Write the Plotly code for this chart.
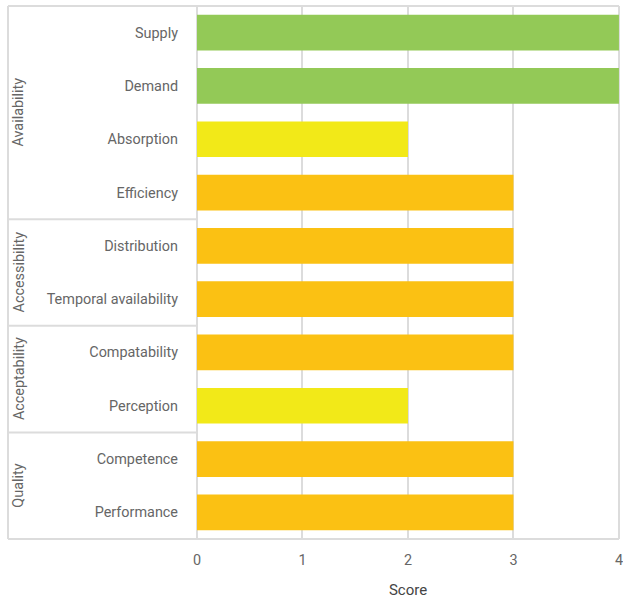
import plotly.graph_objects as go

# Indicator scores grouped by dimension
groups = ["Availability", "Accessibility", "Acceptability", "Quality"]
group_sizes = [4, 2, 2, 2]
indicators = ["Supply", "Demand", "Absorption", "Efficiency",
              "Distribution", "Temporal availability",
              "Compatability", "Perception",
              "Competence", "Performance"]
scores = [4, 4, 2, 3, 3, 3, 3, 2, 3, 3]
score_ticks = [0, 1, 2, 3, 4]

# Colour used for each score level
score_colors = {2: "#f2e918", 3: "#fbc113", 4: "#93c957"}

W, H = 623, 603
ML, MR, MT, MB = 197, 4, 6, 64
plot_w = W - ML - MR
grid = "#dcdcdc"
text_col = "#666666"
fs = 14.4


def px_to_paper(px):
    return (px - ML) / plot_w


fig = go.Figure(go.Bar(
    x=scores,
    y=indicators,
    orientation="h",
    marker=dict(color=[score_colors[s] for s in scores], line=dict(width=0)),
    hoverinfo="x+y",
))

shapes = []
box_left = px_to_paper(8)
n = len(indicators)
line = dict(color=grid, width=2)
# outer frame around the label column and plot
shapes.append(dict(type="line", xref="paper", yref="paper", x0=box_left, x1=1,
                   y0=1, y1=1, line=line, layer="below"))
shapes.append(dict(type="line", xref="paper", yref="paper", x0=box_left, x1=1,
                   y0=0, y1=0, line=line, layer="below"))
shapes.append(dict(type="line", xref="paper", yref="paper", x0=box_left, x1=box_left,
                   y0=0, y1=1, line=line, layer="below"))
shapes.append(dict(type="line", xref="paper", yref="paper", x0=0, x1=0,
                   y0=0, y1=1, line=line, layer="below"))
shapes.append(dict(type="line", xref="paper", yref="paper", x0=1, x1=1,
                   y0=0, y1=1, line=line, layer="below"))

annotations = []
start = 0
for g, size in zip(groups, group_sizes):
    end = start + size
    if end < n:
        shapes.append(dict(type="line", xref="paper", yref="y",
                           x0=box_left, x1=px_to_paper(196),
                           y0=end - 0.5, y1=end - 0.5, line=line))
    annotations.append(dict(
        text=g, xref="paper", yref="y",
        x=px_to_paper(19), y=(start + end - 1) / 2,
        textangle=-90, showarrow=False,
        font=dict(size=fs, color=text_col, family="Roboto"),
        xanchor="center", yanchor="middle",
    ))
    start = end

fig.update_layout(
    width=W, height=H,
    margin=dict(l=ML, r=MR, t=MT, b=MB, autoexpand=False),
    paper_bgcolor="white",
    plot_bgcolor="white",
    bargap=0.33,
    showlegend=False,
    font=dict(family="Roboto", size=fs, color=text_col),
    shapes=shapes,
    annotations=annotations,
    xaxis=dict(
        range=[0, 4.0005],
        tickvals=score_ticks,
        showgrid=True, gridcolor=grid, gridwidth=2,
        zeroline=False, showline=False,
        ticks="", ticklabelstandoff=11,
        ticklabeloverflow="allow",
        automargin=False,
        tickfont=dict(size=fs, color=text_col),
        title=dict(text="Score", font=dict(size=fs + 0.6, color="#444444"), standoff=16),
        fixedrange=True,
    ),
    yaxis=dict(
        categoryorder="array", categoryarray=indicators,
        autorange="reversed",
        showgrid=False, zeroline=False, showline=False,
        ticks="", ticklabelstandoff=18,
        automargin=False,
        tickfont=dict(size=fs, color=text_col),
        fixedrange=True,
    ),
)

fig.write_html("out.html")
